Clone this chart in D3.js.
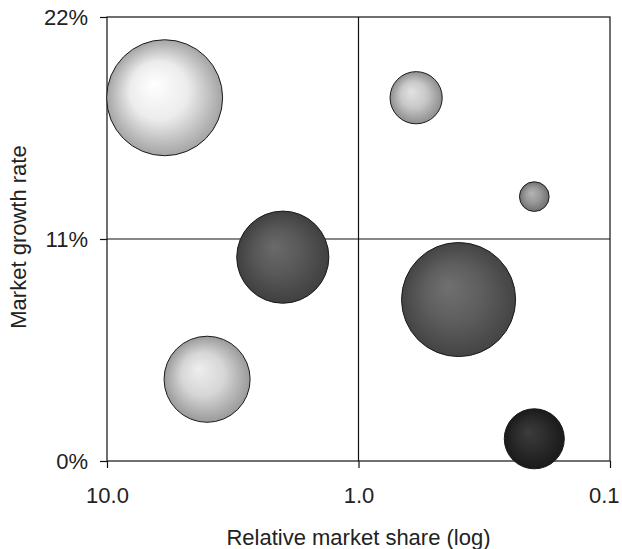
<!DOCTYPE html>
<html>
<head>
<meta charset="utf-8">
<script src="https://cdn.jsdelivr.net/npm/d3@7"></script>
<style>
  html, body { margin: 0; padding: 0; background: #fff; }
  svg text { font-family: "Liberation Sans", Arial, sans-serif; fill: #222; }
</style>
</head>
<body>
<svg id="chart" width="622" height="549"></svg>
<script>
// Portfolio units: relative market share (log, reversed), growth rate, size
const units      = ["A", "B", "C", "D", "E", "F", "G"];
const shareVals  = [5.9, 2.0, 0.59, 0.2, 0.40, 4.0, 0.2];
const growthVals = [18.0, 10.1, 18.0, 13.1, 8.0, 4.05, 1.1];
const sizeVals   = [3.36, 2.12, 0.68, 0.22, 3.25, 1.85, 0.90];
// Shading per bubble: [highlight, mid, rim]
const shades = [
  ["#ffffff", "#ececec", "#a4a4a4"],
  ["#6a6a6a", "#585858", "#404040"],
  ["#e2e2e2", "#c8c8c8", "#8e8e8e"],
  ["#b4b4b4", "#9a9a9a", "#707070"],
  ["#707070", "#5e5e5e", "#444444"],
  ["#eeeeee", "#d6d6d6", "#9a9a9a"],
  ["#3c3c3c", "#2c2c2c", "#1a1a1a"]
];
const xTicks = [10, 1, 0.1];
const yTicks = [0, 11, 22];

const svg = d3.select("#chart");
const plotL = 107, plotR = 610, plotT = 17, plotB = 461;
const fontSize = 22;

const x = d3.scaleLog().domain([10, 0.1]).range([plotL, plotR]);
const y = d3.scaleLinear().domain([0, 22]).range([plotB, plotT]);
const r = d3.scaleSqrt().domain([0, 3.36]).range([0, 58]);

const defs = svg.append("defs");
shades.forEach((s, i) => {
  const g = defs.append("radialGradient")
    .attr("id", "shade" + i)
    .attr("cx", "50%").attr("cy", "50%").attr("r", "50%")
    .attr("fx", "40%").attr("fy", "38%");
  g.append("stop").attr("offset", "0%").attr("stop-color", s[0]);
  g.append("stop").attr("offset", "50%").attr("stop-color", s[1]);
  g.append("stop").attr("offset", "100%").attr("stop-color", s[2]);
});

// Quadrant dividers
svg.append("line")
  .attr("x1", x(1)).attr("x2", x(1)).attr("y1", plotT).attr("y2", plotB)
  .attr("stroke", "#111").attr("stroke-width", 1.2);
svg.append("line")
  .attr("x1", plotL).attr("x2", plotR).attr("y1", y(11)).attr("y2", y(11))
  .attr("stroke", "#111").attr("stroke-width", 1.2);

// Plot frame
svg.append("rect")
  .attr("x", plotL).attr("y", plotT)
  .attr("width", plotR - plotL).attr("height", plotB - plotT)
  .attr("fill", "none").attr("stroke", "#111").attr("stroke-width", 1.2);

// Bubbles
const data = units.map((u, i) => ({
  unit: u, share: shareVals[i], growth: growthVals[i], size: sizeVals[i], idx: i
}));
svg.append("g").selectAll("circle")
  .data(data)
  .join("circle")
  .attr("cx", d => x(d.share))
  .attr("cy", d => y(d.growth))
  .attr("r", d => r(d.size))
  .attr("fill", d => "url(#shade" + d.idx + ")")
  .attr("stroke", "#1a1a1a")
  .attr("stroke-width", 1);

// Axes
const xAxis = d3.axisBottom(x)
  .tickValues(xTicks)
  .tickFormat(d3.format(".1f"))
  .tickSize(7).tickSizeOuter(0).tickPadding(19);
const gx = svg.append("g").attr("transform", `translate(0,${plotB})`).call(xAxis);
gx.select(".domain").remove();
gx.selectAll(".tick line").attr("stroke", "#111").attr("stroke-width", 1.2);
gx.selectAll(".tick text").attr("font-size", fontSize).attr("fill", "#222");
// keep the right-most label inside the page
gx.selectAll(".tick text").filter(d => d === 0.1)
  .attr("text-anchor", "end").attr("x", 9);

const yAxis = d3.axisLeft(y)
  .tickValues(yTicks)
  .tickFormat(d => d + "%")
  .tickSize(7).tickSizeOuter(0).tickPadding(12);
const gy = svg.append("g").attr("transform", `translate(${plotL},0)`).call(yAxis);
gy.select(".domain").remove();
gy.selectAll(".tick line").attr("stroke", "#111").attr("stroke-width", 1.2);
gy.selectAll(".tick text").attr("font-size", fontSize).attr("fill", "#222");

// Axis titles
svg.append("text")
  .attr("x", x(1)).attr("y", 545)
  .attr("text-anchor", "middle").attr("font-size", fontSize)
  .text("Relative market share (log)");
svg.append("text")
  .attr("transform", `translate(26,${y(11) - 2}) rotate(-90)`)
  .attr("text-anchor", "middle").attr("font-size", fontSize)
  .text("Market growth rate");
</script>
</body>
</html>
